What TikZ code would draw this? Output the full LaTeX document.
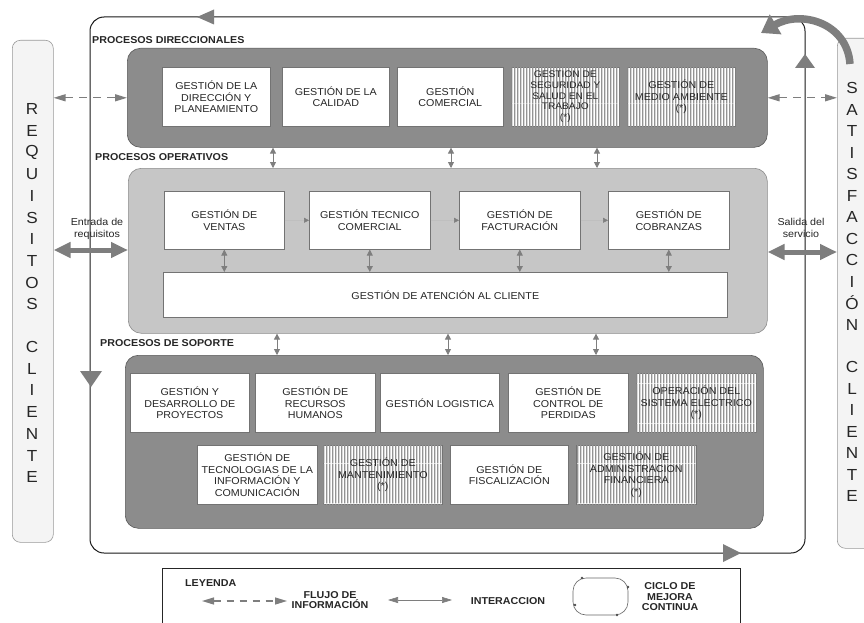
\documentclass[tikz,border=0pt]{standalone}
\usepackage{fontspec}
\setmainfont{Liberation Sans}[FakeStretch=1.07]
\usetikzlibrary{arrows.meta,patterns.meta}
\definecolor{darkbox}{HTML}{8C8C8C}
\definecolor{lightbox}{HTML}{C6C6C6}
\definecolor{tipgray}{HTML}{7E7E7E}
\definecolor{txt}{HTML}{262626}
\definecolor{stripbg}{HTML}{F4F4F4}
\definecolor{stripe}{HTML}{939393}
\tikzdeclarepattern{
  name=vstripes,
  type=uncolored,
  bounding box={(0pt,0pt) and (3.3pt,40pt)},
  tile size={(3.3pt,40pt)},
  code={\fill (0pt,0pt) rectangle (1.6pt,40pt);}
}
\newcommand{\bx}[7][gbox]{%
  \node[#1, anchor=north west, minimum width={(#5-#3)*1pt}, minimum height={(#6-#4)*1pt}] (#2) at (#3,#4) {#7};}
\begin{document}
\begin{tikzpicture}[x=1pt, y=-1pt,
  gbox/.style={draw=black!55, line width=0.6pt, fill=white, align=center, inner sep=1pt, text=txt, font=\fontsize{10}{11.5}\selectfont},
  hbox/.style={gbox, postaction={pattern=vstripes, pattern color=stripe}},
  dirbg/.style={draw=black!65, line width=0.6pt, fill=darkbox, rounded corners=13pt},
  opbg/.style={draw=black!45, line width=0.6pt, fill=lightbox, rounded corners=13pt},
  strip/.style={draw=black!40, line width=0.6pt, fill=stripbg, rounded corners=8pt},
  letter/.style={font=\fontsize{16}{17}\selectfont, text=txt, inner sep=0pt},
  lbl/.style={font=\bfseries\fontsize{10}{11}\selectfont, text=black!85, inner sep=0pt, anchor=west},
  inter/.style={draw=tipgray, line width=0.8pt, {Triangle[length=6pt,width=6pt]}-{Triangle[length=6pt,width=6pt]}},
  seq/.style={draw=black!25, line width=0.5pt, -{Triangle[length=5pt,width=5pt,color=tipgray]}},
  flow/.style={draw=tipgray, line width=1.3pt, dash pattern=on 8pt off 6pt, {Triangle[length=12pt,width=7pt]}-{Triangle[length=12pt,width=7pt]}},
  bigarrow/.style={draw=tipgray, line width=5pt, {Triangle[length=17pt,width=15pt]}-{Triangle[length=17pt,width=15pt]}},
  loopline/.style={draw=black!90, line width=1pt, rounded corners=14pt},
  tipfill/.style={fill=tipgray},
  smalltxt/.style={font=\fontsize{10}{12}\selectfont, align=center, text=txt, inner sep=0pt},
  legtxt/.style={font=\bfseries\fontsize{10}{10.5}\selectfont, align=center, text=black!85, inner sep=0pt}
]
\useasboundingbox (0,0) rectangle (864,623);
\fill[white] (0,0) rectangle (864,623);

% continuous improvement loop
\coordinate (lpA) at (90,17);
\coordinate (lpC) at (805,553);
\draw[loopline] (lpA) rectangle (lpC);

% side strips
\bx[strip]{req}{12}{40}{53}{542}{}
\bx[strip]{sat}{837}{38}{884}{548}{}
\foreach \l [count=\i] in {R,E,Q,U,I,S,I,T,O,S}
  \node[letter] (rq\i) at (32,{109+21.7*(\i-1)}) {\l};
\foreach \l [count=\i] in {C,L,I,E,N,T,E}
  \node[letter] (rc\i) at (32,{347+21.7*(\i-1)}) {\l};
\foreach \l [count=\i] in {S,A,T,I,S,F,A,C,C,I,Ó,N}
  \node[letter] (sa\i) at (852,{88+21.5*(\i-1)}) {\l};
\foreach \l [count=\i] in {C,L,I,E,N,T,E}
  \node[letter] (sc\i) at (852,{367+21.5*(\i-1)}) {\l};

% group labels
\node[lbl] (lbdir) at (92,40) {PROCESOS DIRECCIONALES};
\node[lbl] (lbop) at (95,157) {PROCESOS OPERATIVOS};
\node[lbl] (lbsop) at (100,343) {PROCESOS DE SOPORTE};

% group boxes
\bx[dirbg]{dir}{127}{48}{767}{147}{}
\bx[opbg]{op}{128}{168}{767}{333}{}
\bx[dirbg]{sop}{125}{355}{763}{528}{}

% direccionales
\bx{d1}{162}{67}{270}{126}{GESTIÓN DE LA\\DIRECCIÓN Y\\PLANEAMIENTO}
\bx{d2}{282}{67}{389}{126}{GESTIÓN DE LA\\CALIDAD}
\bx{d3}{397}{67}{503}{126}{GESTIÓN\\COMERCIAL}
\bx[hbox,font=\fontsize{9.5}{10.6}\selectfont]{d4}{511}{67}{619}{126}{GESTION DE\\SEGURIDAD Y\\SALUD EN EL\\TRABAJO\\(*)}
\bx[hbox]{d5}{627}{67}{735}{126}{GESTIÓN DE\\MEDIO AMBIENTE\\(*)}

% operativos
\bx{o1}{164}{191}{284}{249}{GESTIÓN DE\\VENTAS}
\bx{o2}{309}{191}{430}{249}{GESTIÓN TECNICO\\COMERCIAL}
\bx{o3}{459}{191}{580}{249}{GESTIÓN DE\\FACTURACIÓN}
\bx{o4}{608}{191}{729}{249}{GESTIÓN DE\\COBRANZAS}
\bx{o5}{163}{272}{727}{317}{GESTIÓN DE ATENCIÓN AL CLIENTE}

% soporte
\bx{s1}{130}{373}{249}{432}{GESTIÓN Y\\DESARROLLO DE\\PROYECTOS}
\bx{s2}{255}{373}{375}{432}{GESTIÓN DE\\RECURSOS\\HUMANOS}
\bx{s3}{380}{373}{499}{432}{GESTIÓN LOGISTICA}
\bx{s4}{508}{373}{628}{432}{GESTIÓN DE\\CONTROL DE\\PERDIDAS}
\bx[hbox]{s5}{636}{373}{756}{432}{OPERACIÓN DEL\\SISTEMA ELECTRICO\\(*)}
\bx{s6}{197}{445}{317}{504}{GESTIÓN DE\\TECNOLOGIAS DE LA\\INFORMACIÓN Y\\COMUNICACIÓN}
\bx[hbox]{s7}{323}{445}{442}{504}{GESTIÓN DE\\MANTENIMIENTO\\(*)}
\bx{s8}{450}{445}{568}{504}{GESTIÓN DE\\FISCALIZACIÓN}
\bx[hbox]{s9}{576}{445}{696}{504}{GESTIÓN DE\\ADMINISTRACION\\FINANCIERA\\(*)}

% interaction arrows between groups
\coordinate (xa) at (273,0);
\coordinate (xb) at (451,0);
\coordinate (xc) at (597,0);
\coordinate (xd) at (277,0);
\coordinate (xe) at (448,0);
\coordinate (xf) at (596,0);
\draw[inter] (dir.south -| xa) -- (op.north -| xa);
\draw[inter] (dir.south -| xb) -- (op.north -| xb);
\draw[inter] (dir.south -| xc) -- (op.north -| xc);
\draw[inter] (op.south -| xd) -- (sop.north -| xd);
\draw[inter] (op.south -| xe) -- (sop.north -| xe);
\draw[inter] (op.south -| xf) -- (sop.north -| xf);
\draw[inter] (o1.south) -- (o1.south |- o5.north);
\draw[inter] (o2.south) -- (o2.south |- o5.north);
\draw[inter] (o3.south) -- (o3.south |- o5.north);
\draw[inter] (o4.south) -- (o4.south |- o5.north);
\draw[seq] (o1.east) -- (o2.west);
\draw[seq] (o2.east) -- (o3.west);
\draw[seq] (o3.east) -- (o4.west);

% information flow with the client
\draw[flow] (req.east |- dir.west) -- (dir.west);
\draw[flow] (dir.east) -- (sat.west |- dir.east);

% input / output
\coordinate (inY) at (0,250);
\coordinate (outY) at (0,252);
\node[smalltxt] (entr) at (97,229) {Entrada de\\requisitos};
\node[smalltxt] (sal) at (801,228) {Salida del\\servicio};
\draw[bigarrow] (req.east |- inY) -- (op.west |- inY);
\draw[bigarrow] (op.east |- outY) -- (sat.west |- outY);

% loop arrow heads
\fill[tipfill] (197,17) -- (214,9.5) -- (214,24.5) -- cycle;
\fill[tipfill] (91,387) -- (80,371) -- (102,371) -- cycle;
\fill[tipfill] (741,553) -- (723,544) -- (723,562) -- cycle;
\fill[tipfill] (805,54) -- (795,68) -- (815,68) -- cycle;
\coordinate (cvS) at (850,64);
\coordinate (cvE) at (761,33);
\draw[draw=tipgray, line width=7.5pt, -{Triangle[length=17pt,width=22pt]}] (cvS) .. controls (847,22) and (800,10) .. (cvE);

% legend
\bx[gbox, draw=black!85, line width=0.8pt]{leg}{162}{568}{740}{640}{}
\node[legtxt, anchor=west] (leyenda) at (185,583) {LEYENDA};
\coordinate (lf1) at (202,601);
\coordinate (lf2) at (287,601);
\draw[flow, line width=1.2pt, dash pattern=on 7pt off 6pt] (lf1) -- (lf2);
\node[legtxt] (lflujo) at (330,600) {FLUJO DE\\INFORMACIÓN};
\coordinate (li1) at (388,600);
\coordinate (li2) at (452,600);
\draw[draw=tipgray, line width=0.6pt, {Triangle[length=10pt,width=6pt]}-{Triangle[length=10pt,width=6pt]}] (li1) -- (li2);
\node[legtxt] (linter) at (508,601) {INTERACCION};
\node[draw=black!60, line width=0.6pt, rounded corners=13pt, minimum width=55pt, minimum height=37pt] (oval) at (600.5,596.5) {};
\foreach \p in {(582,578),(628,587),(575,605),(617,615)}
  \fill[black!70] \p circle (1.3pt);
\node[legtxt] (lciclo) at (670,597) {CICLO DE\\MEJORA\\CONTINUA};
\end{tikzpicture}
\end{document}
